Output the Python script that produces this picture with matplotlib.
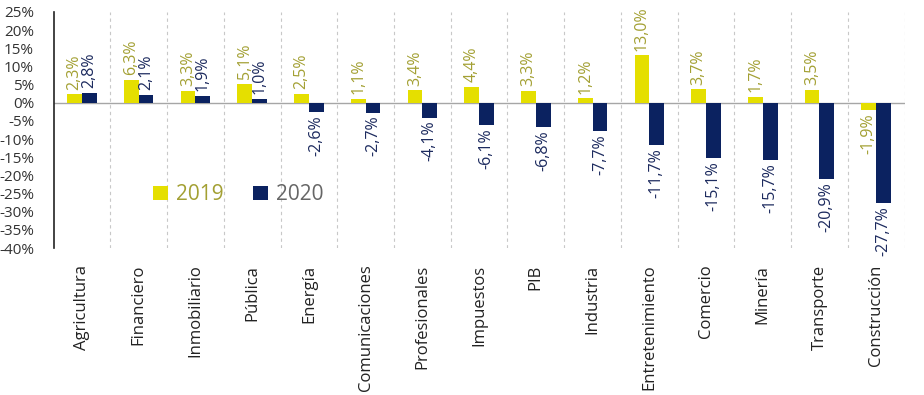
"""Sector growth 2019 vs 2020 - grouped bar chart."""
import matplotlib
matplotlib.use("Agg")
import matplotlib.pyplot as plt
import numpy as np

sectores = ["Agricultura", "Financiero", "Inmobiliario", "Pública", "Energía",
            "Comunicaciones", "Profesionales", "Impuestos", "PIB", "Industria",
            "Entretenimiento", "Comercio", "Minería", "Transporte", "Construcción"]
v2019 = [2.3, 6.3, 3.3, 5.1, 2.5, 1.1, 3.4, 4.4, 3.3, 1.2, 13.0, 3.7, 1.7, 3.5, -1.9]
v2020 = [2.8, 2.1, 1.9, 1.0, -2.6, -2.7, -4.1, -6.1, -6.8, -7.7, -11.7, -15.1, -15.7, -20.9, -27.7]
yticks = np.arange(-40, 26, 5)

YEL, NAVY = "#e5df00", "#0b2260"
YEL_TXT, NAVY_TXT = "#a3a033", "#1c2a5e"

plt.rcParams["font.family"] = ["Open Sans", "DejaVu Sans"]

fig = plt.figure(figsize=(9.24, 3.95), dpi=100)
ax = fig.add_axes([0.058, 0.372, 0.921, 0.598])

x = np.arange(len(sectores))
w = 0.26
b1 = ax.bar(x - w / 2, v2019, w, color=YEL, label="2019", zorder=3)
b2 = ax.bar(x + w / 2, v2020, w, color=NAVY, label="2020", zorder=3)

def fmt(v):
    return f"{v:.1f}".replace(".", ",") + "%"

for bars, vals, col in [(b1, v2019, YEL_TXT), (b2, v2020, NAVY_TXT)]:
    for r, v in zip(bars, vals):
        cx = r.get_x() + r.get_width() / 2
        off = 1.3 if v >= 0 else -0.9
        ax.text(cx, v + off, fmt(v), rotation=90, ha="center",
                va="bottom" if v >= 0 else "top", fontsize=11.5,
                color=col, clip_on=False, zorder=4)

ax.set_xlim(-0.5, len(sectores) - 0.5)
ax.set_ylim(-40, 25)
ax.set_yticks(yticks)
ax.set_yticklabels([f"{t}%" for t in yticks], fontsize=11, color="#333333")
ax.set_xticks(x)
ax.set_xticklabels(sectores, rotation=90, fontsize=12, color="#222222")
ax.tick_params(axis="both", length=0)
ax.tick_params(axis="y", pad=14)
ax.tick_params(axis="x", pad=12)

for b in np.arange(0.5, len(sectores), 1):
    ax.axvline(b, color="#c8c8c8", linestyle=(0, (3, 3)), linewidth=0.8, zorder=1)
ax.axhline(0, color="#a6a6a6", linewidth=1, zorder=2)

for s in ["top", "right", "bottom"]:
    ax.spines[s].set_visible(False)
ax.spines["left"].set_color("#222222")
ax.spines["left"].set_linewidth(1.2)

leg = ax.legend(loc="center left", bbox_to_anchor=(0.105, 0.225), ncol=2,
                frameon=False, fontsize=15, handlelength=0.7, handleheight=0.7,
                handletextpad=0.4, columnspacing=1.4, borderpad=0)
for t, c in zip(leg.get_texts(), [YEL_TXT, "#666666"]):
    t.set_color(c)

fig.savefig("out.png", dpi=100, facecolor="white")
